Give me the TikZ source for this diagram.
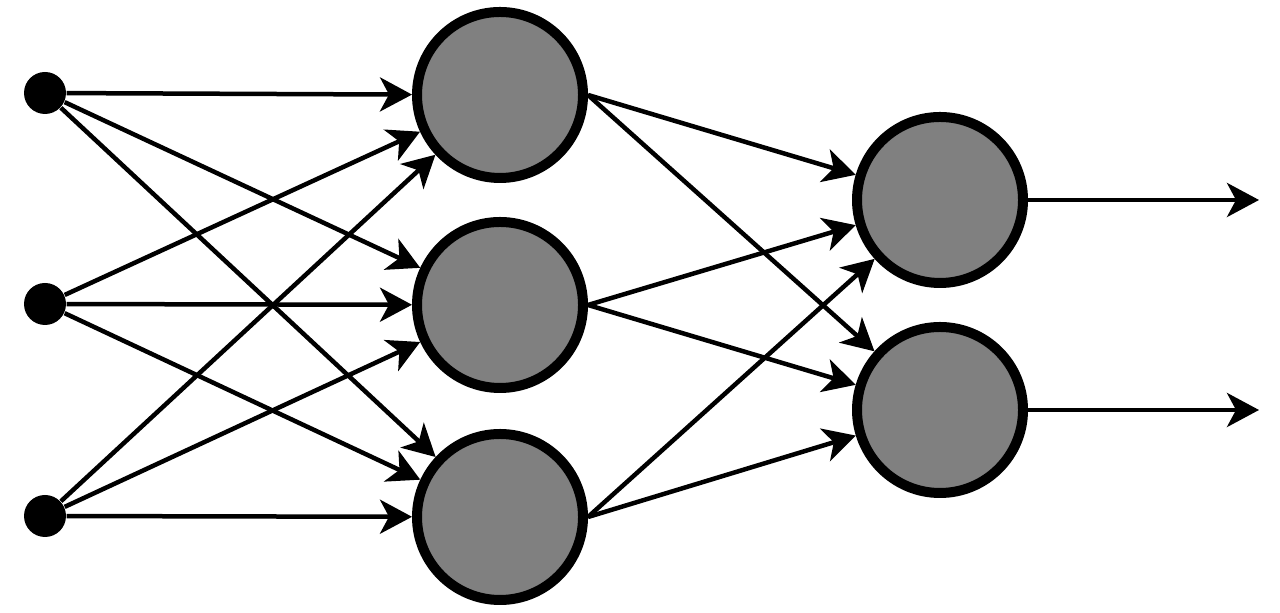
\documentclass[tikz,border=0pt]{standalone}
\usetikzlibrary{arrows.meta}
\begin{document}
\begin{tikzpicture}[>={Stealth[length=3.2mm,width=3.4mm,inset=0.9mm]},x=1cm,y=1cm,
        neuron/.style={circle,draw=black,fill=black!50,line width=1mm,minimum size=16.6mm,inner sep=0pt},
        feed/.style={circle,fill=black,minimum size=4.2mm,inner sep=0pt},
        link/.style={->,line width=0.45mm}]
            \useasboundingbox (0,0) rectangle (12.8,6.13);
            \node[feed] (in1) at (0.45,5.20) {};
            \node[feed] (in2) at (0.45,3.09) {};
            \node[feed] (in3) at (0.45,0.97) {};
            \node[neuron] (hid1) at (5.00,5.18) {};
            \node[neuron] (hid2) at (5.00,3.08) {};
            \node[neuron] (hid3) at (5.00,0.96) {};
            \node[neuron] (out1) at (9.40,4.13) {};
            \node[neuron] (out2) at (9.40,2.03) {};
            \coordinate (end1) at (12.59,4.13);
            \coordinate (end2) at (12.59,2.03);
            \foreach \i in {1,2,3}
                \foreach \j in {1,2,3}
                    \draw[link] (in\i) -- (hid\j);
            \foreach \j in {1,2,3}
                \foreach \k in {1,2}
                    \draw[link] (hid\j.east) -- (out\k);
            \draw[link] (out1) -- (end1);
            \draw[link] (out2) -- (end2);
    \end{tikzpicture}
\end{document}
